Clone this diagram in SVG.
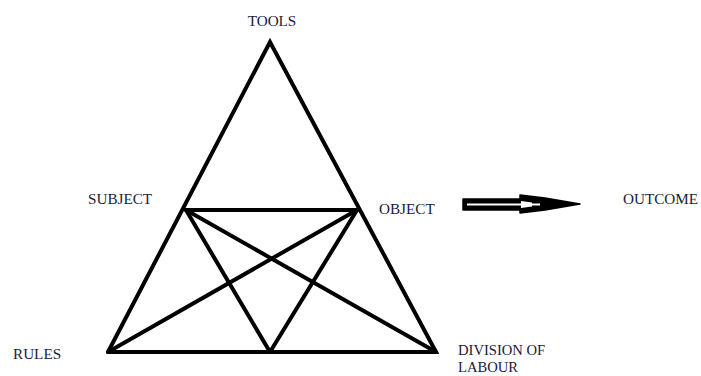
<svg xmlns="http://www.w3.org/2000/svg" width="701" height="376" viewBox="0 0 701 376">
<style>
.l{stroke:#000;stroke-width:4;stroke-linecap:round;fill:none}
text{font-family:"Liberation Serif","Times New Roman",serif;font-size:15.2px;fill:#1a1a3a}
#division text{font-size:14.6px}
</style>
<rect width="701" height="376" fill="#fff"/>
<g id="connectors">
<polyline class="l" stroke-linejoin="miter" points="108,352 270,42 436,352 108,352"/>
<line class="l" x1="186" y1="210" x2="357" y2="210"/>
<line class="l" x1="186" y1="210" x2="436" y2="352"/>
<line class="l" x1="357" y1="210" x2="108" y2="352"/>
<line class="l" x1="186" y1="210" x2="270" y2="352"/>
<line class="l" x1="357" y1="210" x2="270" y2="352"/>
<path d="M463,199 L520,199 L520,195 L545,198 L580,204 L545,210 L520,213 L520,210 L463,210 Z" fill="#000" stroke="#000" stroke-width="1.5" stroke-linejoin="round"/>
<path d="M467,203.5 L540,203.5 L540,205.5 L467,205.5 Z" fill="#fff"/>
<path d="M521,201 L532,202.5 L532,206.5 L521,208 Z" fill="#fff"/>
</g>
<g id="tools"><text x="272" y="26" text-anchor="middle">TOOLS</text></g>
<g id="subject"><text x="88" y="204">SUBJECT</text></g>
<g id="object"><text x="379" y="214">OBJECT</text></g>
<g id="outcome"><text x="623" y="204">OUTCOME</text></g>
<g id="rules"><text x="13" y="359">RULES</text></g>
<g id="division"><text x="458" y="355">DIVISION OF</text><text x="458" y="372">LABOUR</text></g>
</svg>
